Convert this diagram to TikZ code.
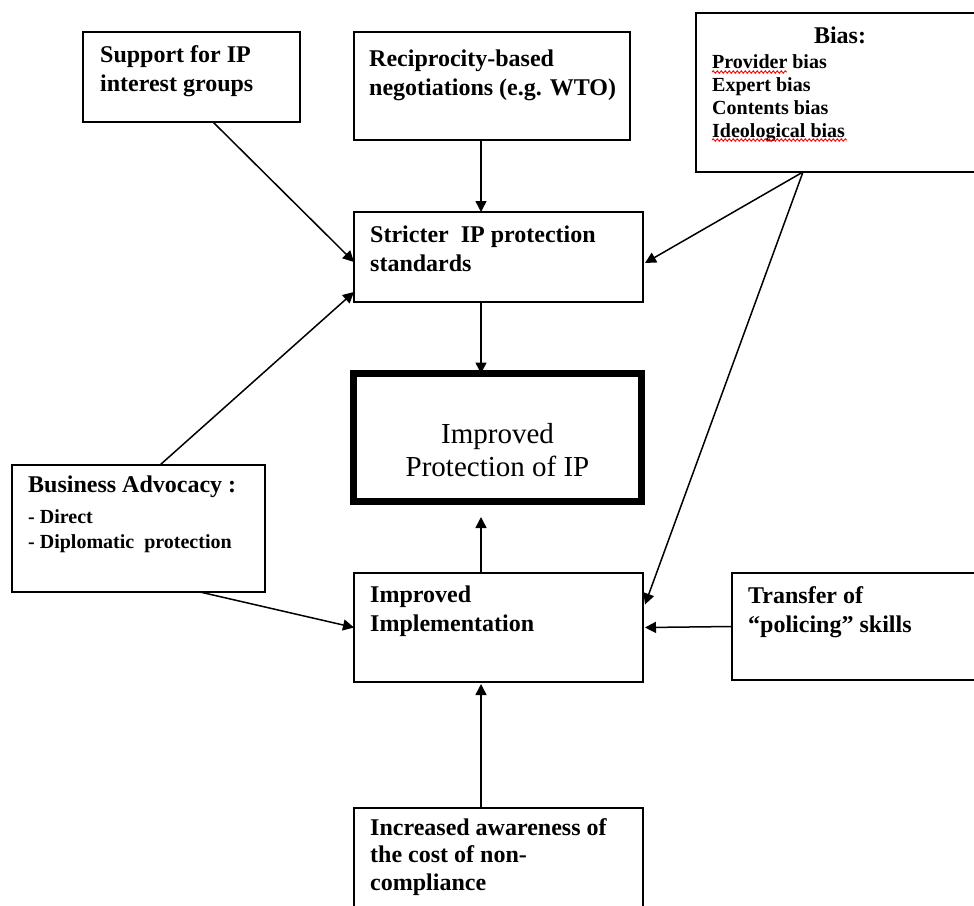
\documentclass[tikz,border=0pt]{standalone}
\usepackage{fontspec}
\setmainfont{Liberation Serif}
\usetikzlibrary{arrows.meta,calc,decorations.pathmorphing}
\newcommand\tlin[1]{\begin{tabular}[t]{@{}l@{}}#1\end{tabular}}
\newcommand\tcen[1]{\begin{tabular}[t]{@{}c@{}}#1\end{tabular}}
\begin{document}
\begin{tikzpicture}[x=1pt,y=-1pt,
  box/.style={draw, line width=2pt, rectangle, inner sep=0pt, outer sep=0pt, anchor=north west},
  txt/.style={inner sep=0pt, anchor=base west, font=\fontsize{24}{29}\selectfont\bfseries},
  small/.style={inner sep=0pt, anchor=base west, font=\fontsize{20}{23}\selectfont\bfseries},
  arr/.style={line width=1.5pt, -{Triangle[length=11pt,width=11pt]}},
  squig/.style={red, line width=0.9pt, decorate, decoration={snake, amplitude=1.2pt, segment length=4pt}}]
\clip (0,0) rectangle (974,905);
\fill[white] (0,0) rectangle (974,905);

% boxes
\node[box, minimum width=217, minimum height=90] (sup) at (83,32) {};
\node[box, minimum width=276, minimum height=108] (rec) at (354,32) {};
\node[box, minimum width=290, minimum height=159] (bias) at (696,13) {};
\node[box, minimum width=289, minimum height=90] (str) at (354,212) {};
\node[box, line width=7pt, minimum width=288, minimum height=127.5] (prot) at (353.5,373.5) {};
\node[box, minimum width=253, minimum height=127] (bus) at (12,465) {};
\node[box, minimum width=289, minimum height=109] (impl) at (354,573) {};
\node[box, minimum width=260, minimum height=107] (trans) at (732,573) {};
\node[box, minimum width=289, minimum height=110] (aware) at (354,808) {};

% texts
\node[txt] (tsup) at (100,62) {\tlin{Support for IP\\interest groups}};
\node[txt] (trec) at (369,66) {\tlin{Reciprocity-based\\negotiations (e.g. WTO)}};
\node[txt, anchor=base] (tbias) at (840,43) {Bias:};
\node[small] (tbiasl) at (712,68) {\tlin{Provider bias\\Expert bias\\Contents bias\\Ideological bias}};
\node[txt] (tstr) at (370,242) {\tlin{Stricter\ \ IP protection\\standards}};
\node[inner sep=0pt, anchor=base, font=\fontsize{29}{33}\selectfont] (tprot) at (497.5,443) {\tcen{Improved\\Protection of IP}};
\node[txt] (tbus) at (28,492) {Business Advocacy :};
\node[inner sep=0pt, anchor=base west, font=\fontsize{20}{25}\selectfont\bfseries] (tbusl) at (28,523) {\tlin{- Direct\\- Diplomatic\ \ protection}};
\node[txt] (timpl) at (370,602) {\tlin{Improved\\Implementation}};
\node[txt] (ttrans) at (748,603) {\tlin{Transfer of\\“policing” skills}};
\node[inner sep=0pt, anchor=base west, font=\fontsize{24}{27.5}\selectfont\bfseries] (taware) at (370,835) {\tlin{Increased awareness of\\the cost of non-\\compliance}};

% spell-check marks
\draw[squig] (712,72) -- (787,72);
\draw[squig] (712,140) -- (847,140);

% connectors
\draw[arr] ($(sup.south west)+(130,0)$) -- ($(str.west)+(0,5)$);
\draw[arr] ($(rec.south west)+(127,0)$) -- ($(str.north west)+(127,0)$);
\draw[arr] ($(bias.south west)+(107,0)$) -- ($(str.east)+(2,6)$);
\draw[arr] ($(bias.south west)+(107,0)$) -- ($(impl.east)+(2,-23)$);
\draw[arr] ($(str.south west)+(127,0)$) -- ($(prot.north west)+(127.5,0)$);
\draw[arr] ($(bus.north west)+(148,0)$) -- ($(str.south west)+(0,-10)$);
\draw[arr] ($(bus.south west)+(188,0)$) -- (impl.west);
\draw[arr] ($(impl.north west)+(127,0)$) -- ($(prot.south west)+(127.5,16)$);
\draw[arr] (trans.west) -- ($(impl.east)+(2,0)$);
\draw[arr] ($(aware.north west)+(127,0)$) -- ($(impl.south west)+(127,2)$);
\end{tikzpicture}
\end{document}
